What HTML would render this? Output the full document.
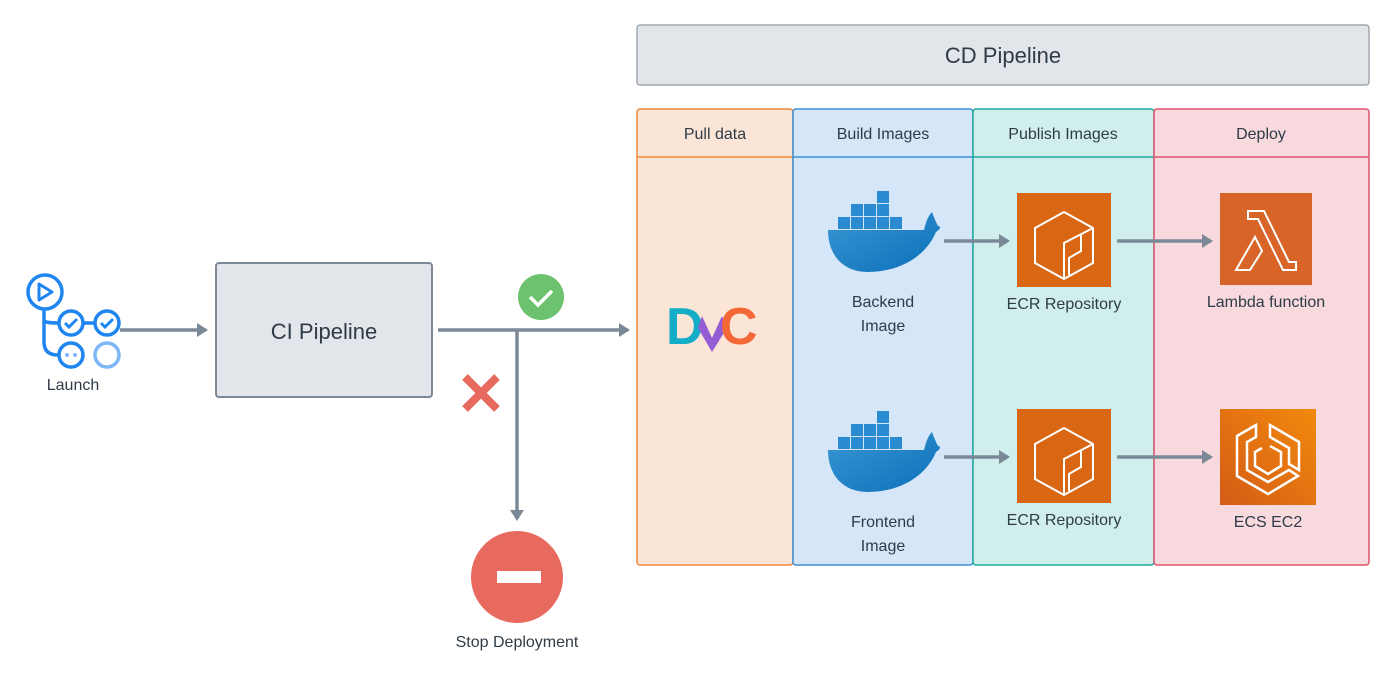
<!DOCTYPE html>
<html><head><meta charset="utf-8"><style>
html,body{margin:0;padding:0;background:#fff}
svg{display:block}
text{font-family:"Liberation Sans",sans-serif;fill:#2f3b47}
</style></head><body>
<svg width="1394" height="678" viewBox="0 0 1394 678" xmlns="http://www.w3.org/2000/svg">
<defs>
<marker id="ah" markerWidth="14" markerHeight="14" refX="9" refY="7" orient="auto" markerUnits="userSpaceOnUse">
<path d="M0,0 L11,7 L0,14 Z" fill="#7b8895"/></marker>
<linearGradient id="og" x1="0" y1="1" x2="1" y2="0"><stop offset="0" stop-color="#d45b16"/><stop offset="1" stop-color="#f28a0c"/></linearGradient>
<linearGradient id="dg" x1="0" y1="0" x2="1" y2="1"><stop offset="0" stop-color="#3a97d4"/><stop offset="1" stop-color="#0b6fb8"/></linearGradient>
<g id="docker">
<path d="M0,40 H96 C98,32 100,26 104,22 C106,28 108,32 110,36 C112,36 114,38 108,42 C98,66 72,82 40,82 C14,82 0,64 0,40 Z" fill="url(#dg)"/>
<g fill="#2b8bd1">
<rect x="10" y="27" width="12" height="12"/><rect x="23" y="27" width="12" height="12"/><rect x="36" y="27" width="12" height="12"/><rect x="49" y="27" width="12" height="12"/><rect x="62" y="27" width="12" height="12"/>
<rect x="23" y="14" width="12" height="12"/><rect x="36" y="14" width="12" height="12"/><rect x="49" y="14" width="12" height="12"/>
<rect x="49" y="1" width="12" height="12"/></g>
</g>
<g id="ecr">
<rect width="94" height="94" fill="#d86613"/>
<path d="M18,35 L47,19 L76,35 L76,70 L47,86 L18,70 Z" fill="none" stroke="#fff" stroke-width="2"/>
<path d="M76,35 L47,50 L47,86 M64,42 L64,58 L52,65 L52,82" fill="none" stroke="#fff" stroke-width="2"/>
</g>
</defs>

<rect x="637" y="25" width="732" height="60" rx="3" fill="#e2e6ea" stroke="#a0a8b0" stroke-width="1.5"/>
<text x="1003" y="63" font-size="22" text-anchor="middle">CD Pipeline</text>

<rect x="637" y="109" width="156" height="456" rx="3" fill="#fbe5d6" stroke="#ef8a3c" stroke-width="1.5"/>
<line x1="637" y1="157" x2="793" y2="157" stroke="#ef8a3c" stroke-width="1.5"/>
<rect x="793" y="109" width="180" height="456" rx="3" fill="#d4e6f7" stroke="#3a8fd8" stroke-width="1.5"/>
<line x1="793" y1="157" x2="973" y2="157" stroke="#3a8fd8" stroke-width="1.5"/>
<rect x="973" y="109" width="181" height="456" rx="3" fill="#d0eeec" stroke="#1aab9b" stroke-width="1.5"/>
<line x1="973" y1="157" x2="1154" y2="157" stroke="#1aab9b" stroke-width="1.5"/>
<rect x="1154" y="109" width="215" height="456" rx="3" fill="#f7d9de" stroke="#e0536b" stroke-width="1.5"/>
<line x1="1154" y1="157" x2="1369" y2="157" stroke="#e0536b" stroke-width="1.5"/>
<g font-size="16" text-anchor="middle">
<text x="715" y="139">Pull data</text>
<text x="883" y="139">Build Images</text>
<text x="1063" y="139">Publish Images</text>
<text x="1261" y="139">Deploy</text>
</g>

<g fill="none" stroke="#1f86f0" stroke-width="3.5">
<circle cx="45" cy="292" r="17"/>
<path d="M39,284 L52,292 L39,300 Z" stroke-width="3" stroke-linejoin="round"/>
<path d="M44,309 V342 Q44,355 58,355 M44,320 Q44,323 58,323"/>
<circle cx="71" cy="323" r="12"/><circle cx="107" cy="323" r="12"/>
<line x1="83" y1="323" x2="95" y2="323"/>
<circle cx="71" cy="355" r="12"/>
<path d="M65,323 l4,4 l8,-8 M101,323 l4,4 l8,-8" stroke-width="3"/>
<circle cx="107" cy="355" r="12" stroke="#7fb6f6"/>
</g>
<circle cx="67" cy="355" r="2" fill="#7fb6f6"/><circle cx="75" cy="355" r="2" fill="#7fb6f6"/>
<text x="73" y="390" font-size="16" text-anchor="middle">Launch</text>

<rect x="216" y="263" width="216" height="134" rx="3" fill="#e2e6ea" stroke="#7d8a96" stroke-width="2"/>
<text x="324" y="339" font-size="22" text-anchor="middle">CI Pipeline</text>

<g stroke="#7b8895" stroke-width="3.5" fill="none" marker-end="url(#ah)">
<line x1="120" y1="330" x2="206" y2="330"/>
<line x1="438" y1="330" x2="628" y2="330"/>
<line x1="517" y1="330" x2="517" y2="519"/>
<line x1="944" y1="241" x2="1008" y2="241"/>
<line x1="1117" y1="241" x2="1211" y2="241"/>
<line x1="944" y1="457" x2="1008" y2="457"/>
<line x1="1117" y1="457" x2="1211" y2="457"/>
</g>

<circle cx="541" cy="297" r="23" fill="#6cc26e"/>
<path d="M530,297 l8,8 l14,-14" stroke="#fff" stroke-width="3.5" fill="none"/>
<path d="M465,377 L497,409 M497,377 L465,409" stroke="#e86a5e" stroke-width="8"/>
<circle cx="517" cy="577" r="46" fill="#e86a5e"/>
<rect x="497" y="571" width="44" height="12" fill="#fff"/>
<text x="517" y="647" font-size="16" text-anchor="middle">Stop Deployment</text>

<text x="666" y="344" font-size="52" font-weight="bold" style="fill:#13adc7">D</text>
<path d="M702,316 L712,338 L722,316 L727,328 L712,352 L698,328 Z" fill="#945dd6"/>
<text x="720" y="344" font-size="52" font-weight="bold" style="fill:#f46737">C</text>

<use href="#docker" x="828" y="190"/>
<use href="#docker" x="828" y="410"/>
<g font-size="16" text-anchor="middle">
<text x="883" y="307">Backend</text><text x="883" y="331">Image</text>
<text x="883" y="527">Frontend</text><text x="883" y="551">Image</text>
<text x="1064" y="309">ECR Repository</text>
<text x="1064" y="525">ECR Repository</text>
<text x="1266" y="307">Lambda function</text>
<text x="1268" y="527">ECS EC2</text>
</g>
<use href="#ecr" x="1017" y="193"/>
<use href="#ecr" x="1017" y="409"/>

<rect x="1220" y="193" width="92" height="92" fill="#d86427"/>
<path d="M1248,211 H1264 L1289,262 H1296 V270 H1283 L1258,219 H1248 Z M1255,237 L1262,251 L1250,270 H1236 Z" fill="none" stroke="#fff" stroke-width="2"/>

<rect x="1220" y="409" width="96" height="96" fill="url(#og)"/>
<g fill="none" stroke="#fff" stroke-width="2.5">
<path d="M1256,425 L1237,436 L1237,476 L1268,494 L1298,476 L1289,470 L1268,482 L1247,470 L1247,442 L1256,437 Z"/>
<path d="M1270,425 L1299,442 L1299,470 L1289,464 L1289,448 L1270,437 Z"/>
<path d="M1270,446 L1281,452 L1281,466 L1268,474 L1255,466 L1255,452 L1262,448"/>
</g>
</svg>
</body></html>
